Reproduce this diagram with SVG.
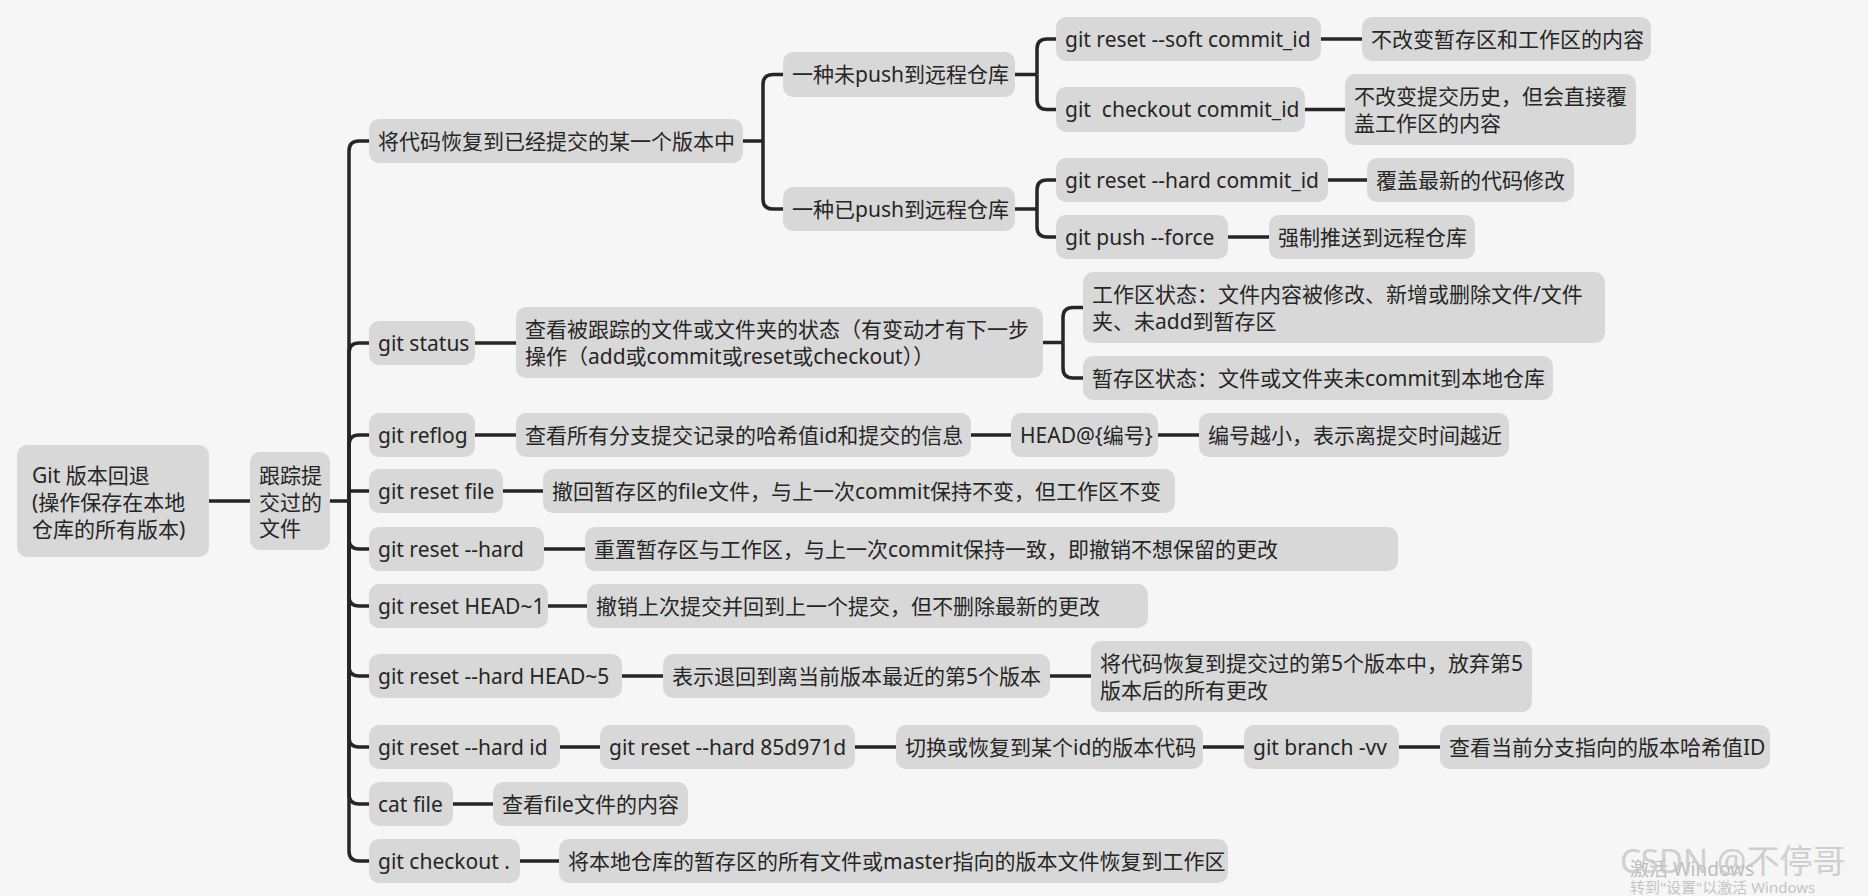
<svg xmlns="http://www.w3.org/2000/svg" width="1868" height="896" viewBox="0 0 1868 896">
<style>
.n rect{fill:#d8d8d8}
.n text,.wm{font-family:"Noto Sans","Noto Sans CJK SC",sans-serif;font-size:21px;fill:#262626}
.c path{fill:none;stroke:#262626;stroke-width:3.5;stroke-linecap:butt;stroke-linejoin:round}
</style>
<rect x="0" y="0" width="1868" height="896" fill="#f6f6f6"/>
<g class="c" id="connectors">
<path d="M209,501 H250"/>
<path d="M330,501 H349"/>
<path d="M349,501 V151 Q349,141 359,141 H369"/>
<path d="M349,501 V353 Q349,343 359,343 H369"/>
<path d="M349,501 V445 Q349,435 359,435 H369"/>
<path d="M349,491 H369"/>
<path d="M349,501 V539 Q349,549 359,549 H369"/>
<path d="M349,501 V596 Q349,606 359,606 H369"/>
<path d="M349,501 V666 Q349,676 359,676 H369"/>
<path d="M349,501 V737 Q349,747 359,747 H369"/>
<path d="M349,501 V794 Q349,804 359,804 H369"/>
<path d="M349,501 V851 Q349,861 359,861 H369"/>
<path d="M743,141 H763"/>
<path d="M763,141 V84.5 Q763,74.5 773,74.5 H783"/>
<path d="M763,141 V199 Q763,209 773,209 H783"/>
<path d="M1015,74.5 H1037"/>
<path d="M1037,74.5 V49 Q1037,39 1047,39 H1056"/>
<path d="M1037,74.5 V99.5 Q1037,109.5 1047,109.5 H1056"/>
<path d="M1015,209 H1037"/>
<path d="M1037,209 V190 Q1037,180 1047,180 H1056"/>
<path d="M1037,209 V227 Q1037,237 1047,237 H1056"/>
<path d="M1321,39 H1362"/>
<path d="M1305,109.5 H1345"/>
<path d="M1328,180 H1367"/>
<path d="M1228,237 H1269"/>
<path d="M475,343 H516"/>
<path d="M1043,342.5 H1063"/>
<path d="M1063,342.5 V317.5 Q1063,307.5 1073,307.5 H1083"/>
<path d="M1063,342.5 V368 Q1063,378 1073,378 H1083"/>
<path d="M475,435 H516"/>
<path d="M971,435 H1011"/>
<path d="M1158,435 H1199"/>
<path d="M503,491 H543"/>
<path d="M544,549 H585"/>
<path d="M548,606 H587"/>
<path d="M622,676 H663"/>
<path d="M1050,676 H1091"/>
<path d="M560,747 H600"/>
<path d="M855,747 H896"/>
<path d="M1203,747 H1244"/>
<path d="M1399,747 H1440"/>
<path d="M453,804 H493"/>
<path d="M520,861 H559"/>
</g>
<g class="n" id="root"><rect x="17" y="445" width="192" height="112" rx="10"/><text x="32" y="483">Git 版本回退</text><text x="32" y="510">(操作保存在本地</text><text x="32" y="537">仓库的所有版本)</text></g>
<g class="n" id="track"><rect x="250" y="452" width="80" height="98" rx="10"/><text x="259" y="483">跟踪提</text><text x="259" y="510">交过的</text><text x="259" y="536">文件</text></g>
<g class="n" id="n-restore"><rect x="369" y="119" width="374" height="44" rx="10"/><text x="378" y="149">将代码恢复到已经提交的某一个版本中</text></g>
<g class="n" id="n-unpushed"><rect x="783" y="52" width="232" height="45" rx="10"/><text x="792" y="82">一种未push到远程仓库</text></g>
<g class="n" id="n-pushed"><rect x="783" y="187" width="232" height="44" rx="10"/><text x="792" y="217">一种已push到远程仓库</text></g>
<g class="n" id="n-soft"><rect x="1056" y="17" width="265" height="44" rx="10"/><text x="1065" y="47">git reset --soft commit_id</text></g>
<g class="n" id="n-checkout-id"><rect x="1056" y="87" width="249" height="45" rx="10"/><text x="1065" y="117" xml:space="preserve" style="white-space:pre">git  checkout commit_id</text></g>
<g class="n" id="n-soft-desc"><rect x="1362" y="17" width="289" height="44" rx="10"/><text x="1371" y="47">不改变暂存区和工作区的内容</text></g>
<g class="n" id="n-checkout-desc"><rect x="1345" y="74" width="291" height="71" rx="10"/><text x="1354" y="104">不改变提交历史，但会直接覆</text><text x="1354" y="131">盖工作区的内容</text></g>
<g class="n" id="n-hard-commit"><rect x="1056" y="158" width="272" height="44" rx="10"/><text x="1065" y="188">git reset --hard commit_id</text></g>
<g class="n" id="n-push-force"><rect x="1056" y="215" width="172" height="44" rx="10"/><text x="1065" y="245">git push --force</text></g>
<g class="n" id="n-hard-desc"><rect x="1367" y="158" width="207" height="44" rx="10"/><text x="1376" y="188">覆盖最新的代码修改</text></g>
<g class="n" id="n-force-desc"><rect x="1269" y="215" width="206" height="44" rx="10"/><text x="1278" y="245">强制推送到远程仓库</text></g>
<g class="n" id="n-status"><rect x="369" y="321" width="106" height="44" rx="10"/><text x="378" y="351">git status</text></g>
<g class="n" id="n-status-desc"><rect x="516" y="307" width="527" height="71" rx="10"/><text x="525" y="337">查看被跟踪的文件或文件夹的状态（有变动才有下一步</text><text x="525" y="364">操作（add或commit或reset或checkout））</text></g>
<g class="n" id="n-work-state"><rect x="1083" y="272" width="522" height="71" rx="10"/><text x="1092" y="302">工作区状态：文件内容被修改、新增或删除文件/文件</text><text x="1092" y="329">夹、未add到暂存区</text></g>
<g class="n" id="n-stage-state"><rect x="1083" y="356" width="470" height="44" rx="10"/><text x="1092" y="386">暂存区状态：文件或文件夹未commit到本地仓库</text></g>
<g class="n" id="n-reflog"><rect x="369" y="413" width="106" height="44" rx="10"/><text x="378" y="443">git reflog</text></g>
<g class="n" id="n-reflog-desc"><rect x="516" y="413" width="455" height="44" rx="10"/><text x="525" y="443">查看所有分支提交记录的哈希值id和提交的信息</text></g>
<g class="n" id="n-head-num"><rect x="1011" y="413" width="147" height="44" rx="10"/><text x="1020" y="443">HEAD@{编号}</text></g>
<g class="n" id="n-num-desc"><rect x="1199" y="413" width="310" height="44" rx="10"/><text x="1208" y="443">编号越小，表示离提交时间越近</text></g>
<g class="n" id="n-reset-file"><rect x="369" y="469" width="134" height="44" rx="10"/><text x="378" y="499">git reset file</text></g>
<g class="n" id="n-reset-file-desc"><rect x="543" y="469" width="632" height="44" rx="10"/><text x="552" y="499">撤回暂存区的file文件，与上一次commit保持不变，但工作区不变</text></g>
<g class="n" id="n-reset-hard"><rect x="369" y="527" width="175" height="44" rx="10"/><text x="378" y="557">git reset --hard</text></g>
<g class="n" id="n-reset-hard-desc"><rect x="585" y="527" width="813" height="44" rx="10"/><text x="594" y="557">重置暂存区与工作区，与上一次commit保持一致，即撤销不想保留的更改</text></g>
<g class="n" id="n-head1"><rect x="369" y="584" width="179" height="44" rx="10"/><text x="378" y="614">git reset HEAD~1</text></g>
<g class="n" id="n-head1-desc"><rect x="587" y="584" width="561" height="44" rx="10"/><text x="596" y="614">撤销上次提交并回到上一个提交，但不删除最新的更改</text></g>
<g class="n" id="n-head5"><rect x="369" y="654" width="253" height="44" rx="10"/><text x="378" y="684">git reset --hard HEAD~5</text></g>
<g class="n" id="n-head5-desc"><rect x="663" y="654" width="387" height="44" rx="10"/><text x="672" y="684">表示退回到离当前版本最近的第5个版本</text></g>
<g class="n" id="n-head5-desc2"><rect x="1091" y="641" width="441" height="71" rx="10"/><text x="1100" y="671">将代码恢复到提交过的第5个版本中，放弃第5</text><text x="1100" y="698">版本后的所有更改</text></g>
<g class="n" id="n-hard-id"><rect x="369" y="725" width="191" height="44" rx="10"/><text x="378" y="755">git reset --hard id</text></g>
<g class="n" id="n-hard-85d"><rect x="600" y="725" width="255" height="44" rx="10"/><text x="609" y="755">git reset --hard 85d971d</text></g>
<g class="n" id="n-85d-desc"><rect x="896" y="725" width="307" height="44" rx="10"/><text x="905" y="755">切换或恢复到某个id的版本代码</text></g>
<g class="n" id="n-branch-vv"><rect x="1244" y="725" width="155" height="44" rx="10"/><text x="1253" y="755">git branch -vv</text></g>
<g class="n" id="n-branch-desc"><rect x="1440" y="725" width="330" height="44" rx="10"/><text x="1449" y="755">查看当前分支指向的版本哈希值ID</text></g>
<g class="n" id="n-cat"><rect x="369" y="782" width="84" height="44" rx="10"/><text x="378" y="812">cat file</text></g>
<g class="n" id="n-cat-desc"><rect x="493" y="782" width="195" height="44" rx="10"/><text x="502" y="812">查看file文件的内容</text></g>
<g class="n" id="n-checkout-dot"><rect x="369" y="839" width="151" height="44" rx="10"/><text x="378" y="869">git checkout .</text></g>
<g class="n" id="n-checkout-dot-desc"><rect x="559" y="839" width="669" height="44" rx="10"/><text x="568" y="869">将本地仓库的暂存区的所有文件或master指向的版本文件恢复到工作区</text></g>
<g id="watermark">
<text class="wm" x="1630" y="876" style="font-size:19px;fill:#bdbdbd">激活 Windows</text>
<text class="wm" x="1630" y="893" style="font-size:15px;fill:#c4c4c4">转到"设置"以激活 Windows</text>
<text class="wm" x="1620" y="873" style="font-size:33px;fill:#c9c9c9;opacity:0.85">CSDN @不停哥</text>
</g>
</svg>
